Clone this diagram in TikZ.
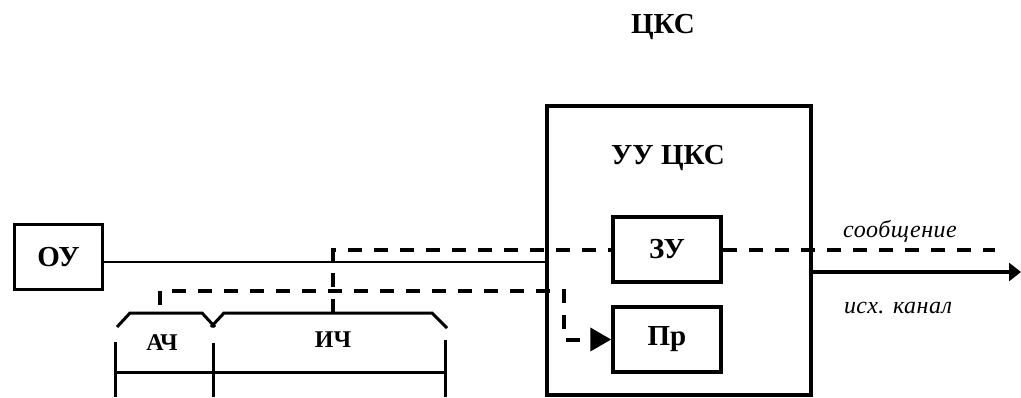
\documentclass[tikz,border=0pt]{standalone}
\usepackage{fontspec}
\setmainfont{Liberation Serif}
\newfontfamily\spit{Liberation Serif}[LetterSpace=2]
\usetikzlibrary{arrows.meta,calc}
\begin{document}
\begin{tikzpicture}[x=1pt,y=-1pt,
  box/.style={draw, line width=3.5pt, minimum width=#1, minimum height=65pt, inner sep=0pt,
    font=\bfseries\fontsize{29}{29}\selectfont},
  lbl/.style={inner sep=0pt, font=\bfseries\fontsize{29}{29}\selectfont},
  smalllbl/.style={inner sep=0pt, font=\bfseries\fontsize{24}{24}\selectfont},
  itlbl/.style={inner sep=0pt, font=\spit\itshape\fontsize{24}{24}\selectfont},
  dashline/.style={line width=4pt, dash pattern=on 14pt off 12pt},
  bracket/.style={line width=3pt},
  thinline/.style={line width=1.2pt}]
\useasboundingbox (0,0) rectangle (1021,397);

\node[box=88pt] (ou) at (58.5,257) {ОУ};
\node[draw, line width=3.5pt, minimum width=264pt, minimum height=289pt, inner sep=0pt] (ucks) at (679,250.5) {};
\node[box=108pt] (zu) at (667,249.5) {ЗУ};
\node[box=108pt] (pr) at (667,339.5) {Пр};
\node[lbl] (title) at (663,27) {ЦКС};
\node[lbl] (uu) at (668,158) {УУ ЦКС};
\node[smalllbl] (ach) at (162,343) {АЧ};
\node[smalllbl] (ich) at (333,340) {ИЧ};
\node[itlbl] (msg) at (900,231) {сообщение};
\node[itlbl] (ch) at (898,308) {исх. канал};

% bracket (packet)
\draw[bracket] (117,327) -- (130,313) -- (202,313) -- (215,327);
\draw[bracket] (211,327) -- (224,313) -- (432,313) -- (447,328);
\draw[bracket] (115,342) -- (115,397);
\draw[bracket] (213,343) -- (213,397);
\draw[bracket] (445,340) -- (445,397);
\draw[bracket] (115,372) -- (445,372);

\coordinate (ichtop) at (333,313);
\coordinate (achtop) at (160,305);
\coordinate (bcorner) at (564,291);
\coordinate (msgend) at (995,249.5);
\coordinate (outend) at (1021,272);
\coordinate (t1) at ([yshift=-5pt]ou.east);

% thin line from ОУ
\draw[thinline] (t1) -- (t1 -| ucks.west);

% message path
\draw[dashline] (ichtop) -- (ichtop |- zu.west) -- (zu.west);
\draw[dashline] (zu.east) -- (msgend);

% address path
\draw[dashline, -{Triangle[length=21pt,width=23pt]}] (achtop) -- (achtop |- bcorner) -- (bcorner) -- (bcorner |- pr.west) -- (pr.west);

% outgoing channel
\draw[line width=4pt, -{Triangle[length=12pt,width=18pt]}] (ucks.east |- outend) -- (outend);
\end{tikzpicture}
\end{document}
